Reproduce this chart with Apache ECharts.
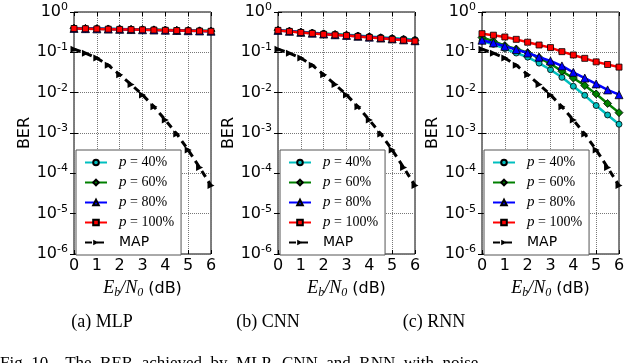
<!DOCTYPE html>
<html>
<head>
<meta charset="utf-8">
<script src="https://cdn.jsdelivr.net/npm/echarts@6/dist/echarts.min.js"></script>
<style>
html,body{margin:0;padding:0;background:#fff;}
#main{width:640px;height:363px;}
</style>
</head>
<body>
<div id="main"></div>
<script>
// Eb/N0 (dB)
var ebn0 = [0, 0.5, 1, 1.5, 2, 2.5, 3, 3.5, 4, 4.5, 5, 5.5, 6];
// MLP
var mlp40  = [0.40, 0.395, 0.39, 0.385, 0.38, 0.375, 0.37, 0.365, 0.36, 0.355, 0.35, 0.345, 0.34];
var mlp60  = [0.395, 0.39, 0.385, 0.38, 0.375, 0.37, 0.366, 0.361, 0.356, 0.351, 0.346, 0.341, 0.336];
var mlp80  = [0.392, 0.387, 0.382, 0.377, 0.372, 0.367, 0.363, 0.358, 0.353, 0.348, 0.344, 0.339, 0.334];
var mlp100 = [0.39, 0.385, 0.38, 0.375, 0.37, 0.366, 0.362, 0.357, 0.352, 0.347, 0.342, 0.337, 0.332];
// CNN
var cnn40  = [0.36, 0.34, 0.322, 0.307, 0.293, 0.282, 0.272, 0.26, 0.248, 0.237, 0.226, 0.216, 0.206];
var cnn60  = [0.355, 0.335, 0.316, 0.301, 0.287, 0.276, 0.266, 0.253, 0.241, 0.229, 0.218, 0.207, 0.197];
var cnn80  = [0.35, 0.332, 0.313, 0.298, 0.284, 0.273, 0.263, 0.25, 0.238, 0.226, 0.215, 0.204, 0.194];
var cnn100 = [0.35, 0.33, 0.31, 0.295, 0.28, 0.27, 0.26, 0.247, 0.234, 0.222, 0.21, 0.2, 0.19];
// RNN
var rnn40  = [0.19, 0.158, 0.124, 0.096, 0.076, 0.054, 0.037, 0.024, 0.0144, 0.0086, 0.0048, 0.0028, 0.00165];
var rnn60  = [0.233, 0.188, 0.147, 0.121, 0.098, 0.074, 0.052, 0.034, 0.023, 0.015, 0.0093, 0.0054, 0.0032];
var rnn80  = [0.2, 0.171, 0.141, 0.117, 0.096, 0.076, 0.061, 0.046, 0.032, 0.023, 0.0165, 0.0117, 0.0089];
var rnn100 = [0.29, 0.266, 0.24, 0.21, 0.178, 0.152, 0.131, 0.104, 0.086, 0.071, 0.058, 0.05, 0.043];
// MAP bound
var mapBer = [0.12, 0.095, 0.072, 0.048, 0.028, 0.016, 0.0088, 0.0045, 0.0021, 0.00095, 0.00038, 0.00014, 0.00005];

var seriesNames = ['p = 40%', 'p = 60%', 'p = 80%', 'p = 100%', 'MAP'];
var captions = ['(a) MLP', '(b) CNN', '(c) RNN'];

var panels = [
    {left: 74, cap: 102, data: [mlp40, mlp60, mlp80, mlp100]},
    {left: 278, cap: 268, data: [cnn40, cnn60, cnn80, cnn100]},
    {left: 482, cap: 434, data: [rnn40, rnn60, rnn80, rnn100]}
];

var colors = ['#00bfbf', '#008000', '#0000ff', '#ff0000', '#000000'];
var symbols = ['circle', 'diamond', 'triangle', 'rect', 'triangle'];
var symSize = [6, 8, 8, 6, 7];

function pairs(ys) {
    var out = [];
    for (var i = 0; i < ebn0.length; i++) out.push([ebn0[i], ys[i]]);
    return out;
}

var grids = [], xAxes = [], yAxes = [], series = [], legends = [], graphics = [];
var gridLine = {show: true, lineStyle: {color: '#777', type: 'dotted', width: 1}};
var sans = 'DejaVu Sans';
var serif = 'Liberation Serif';

for (var k = 0; k < panels.length; k++) {
    var p = panels[k];
    grids.push({left: p.left, top: 12, width: 137, height: 242, show: true, borderColor: '#000', borderWidth: 1, backgroundColor: '#fff'});
    xAxes.push({
        gridIndex: k, type: 'value', min: 0, max: 6, interval: 1,
        axisLine: {show: false}, splitLine: gridLine,
        axisTick: {inside: true, length: 4, lineStyle: {color: '#000'}},
        axisLabel: {color: '#000', fontFamily: sans, fontSize: 16, margin: 4},
        name: '{i|E}{s|b}{i|/N}{s|0}{n| (dB)}', nameLocation: 'middle', nameGap: 24,
        nameTextStyle: {rich: {
            i: {fontFamily: serif, fontStyle: 'italic', fontSize: 18, color: '#000'},
            s: {fontFamily: serif, fontStyle: 'italic', fontSize: 12, color: '#000', padding: [9, 0, 0, 0]},
            n: {fontFamily: sans, fontSize: 16, color: '#000'}
        }}
    });
    xAxes.push({
        gridIndex: k, type: 'value', min: 0, max: 6, interval: 1, position: 'top',
        axisLine: {show: false}, splitLine: {show: false}, axisLabel: {show: false},
        axisTick: {inside: true, length: 4, lineStyle: {color: '#000'}}
    });
    yAxes.push({
        gridIndex: k, type: 'log', logBase: 10, min: 1e-6, max: 1, splitNumber: 6,
        axisLine: {show: false}, splitLine: gridLine,
        axisTick: {inside: true, length: 4, lineStyle: {color: '#000'}},
        axisLabel: {
            margin: 6,
            formatter: function (v) {
                return '{b|10}{s|' + Math.round(Math.log(v) / Math.LN10) + '}';
            },
            rich: {
                b: {fontFamily: sans, fontSize: 16, color: '#000'},
                s: {fontFamily: sans, fontSize: 11, color: '#000', padding: [0, 0, 10, 0]}
            }
        },
        name: 'BER', nameLocation: 'middle', nameGap: 41,
        nameTextStyle: {fontFamily: sans, fontSize: 16, color: '#000'}
    });
    yAxes.push({
        gridIndex: k, type: 'log', logBase: 10, min: 1e-6, max: 1, splitNumber: 6, position: 'right',
        axisLine: {show: false}, splitLine: {show: false}, axisLabel: {show: false},
        axisTick: {inside: true, length: 4, lineStyle: {color: '#000'}}
    });
    var all = p.data.concat([mapBer]);
    for (var s = 0; s < all.length; s++) {
        var isMap = s === 4;
        series.push({
            name: seriesNames[s], type: 'line', xAxisIndex: 2 * k, yAxisIndex: 2 * k,
            data: pairs(all[s]), symbol: symbols[s], symbolSize: symSize[s],
            symbolRotate: isMap ? -90 : 0, showAllSymbol: true,
            lineStyle: {color: colors[s], width: isMap ? 3 : 2.5, type: isMap ? [7, 5] : 'solid'},
            itemStyle: {color: colors[s], borderColor: '#000', borderWidth: isMap ? 0 : 0.8},
            animation: false, z: 2 + s
        });
    }
    legends.push({
        left: p.left + 2, top: 150, orient: 'vertical',
        data: seriesNames, itemWidth: 22, itemHeight: 7, itemGap: 3,
        padding: [4, 7, 4, 8],
        backgroundColor: '#fff', borderColor: '#555', borderWidth: 1,
        selectedMode: false,
        formatter: function (name) {
            if (name === 'MAP') return '{m|MAP}';
            return '{i|p}{n|' + name.slice(1) + '}';
        },
        textStyle: {padding: [0, 0, 0, 7], lineHeight: 17, rich: {
            i: {fontFamily: serif, fontStyle: 'italic', fontSize: 15, color: '#000', lineHeight: 17},
            n: {fontFamily: serif, fontSize: 14, color: '#000', lineHeight: 17},
            m: {fontFamily: sans, fontSize: 14, color: '#000', lineHeight: 17}
        }}
    });
    graphics.push({
        type: 'text',
        style: {x: p.cap, y: 322, text: captions[k], font: '18px "Liberation Serif"', fill: '#000', textAlign: 'center', textVerticalAlign: 'middle'}
    });
}

graphics.push({
    type: 'text',
    style: {x: 0, y: 364, text: 'Fig. 10.   The  BER  achieved  by  MLP,  CNN  and  RNN  with  noise', font: '17px "Liberation Serif"', fill: '#000', textVerticalAlign: 'middle'}
});

var chart = echarts.init(document.getElementById('main'));
chart.setOption({
    animation: false,
    backgroundColor: '#fff',
    grid: grids,
    xAxis: xAxes,
    yAxis: yAxes,
    legend: legends,
    series: series,
    graphic: graphics
});
</script>
</body>
</html>
